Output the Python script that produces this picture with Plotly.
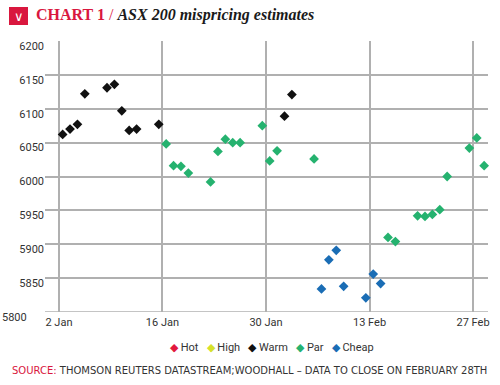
import plotly.graph_objects as go

# ---- data ----
dates = [
    "2018-01-02", "2018-01-03", "2018-01-04", "2018-01-05",
    "2018-01-08", "2018-01-09", "2018-01-10", "2018-01-11", "2018-01-12",
    "2018-01-15", "2018-01-16", "2018-01-17", "2018-01-18", "2018-01-19",
    "2018-01-22", "2018-01-23", "2018-01-24", "2018-01-25", "2018-01-26",
    "2018-01-29", "2018-01-30", "2018-01-31", "2018-02-01", "2018-02-02",
    "2018-02-05", "2018-02-06", "2018-02-07", "2018-02-08", "2018-02-09",
    "2018-02-12", "2018-02-13", "2018-02-14", "2018-02-15", "2018-02-16",
    "2018-02-19", "2018-02-20", "2018-02-21", "2018-02-22", "2018-02-23",
    "2018-02-26", "2018-02-27", "2018-02-28",
]
values = [
    6062, 6070, 6077, 6122,
    6131, 6136, 6097, 6068, 6070,
    6077, 6048, 6016, 6015, 6005,
    5992, 6037, 6055, 6050, 6050,
    6075, 6023, 6038, 6089, 6121,
    6026, 5834, 5877, 5891, 5838,
    5821, 5856, 5842, 5910, 5904,
    5942, 5941, 5944, 5951, 6000,
    6042, 6057, 6016,
]
ratings = [
    "Warm", "Warm", "Warm", "Warm",
    "Warm", "Warm", "Warm", "Warm", "Warm",
    "Warm", "Par", "Par", "Par", "Par",
    "Par", "Par", "Par", "Par", "Par",
    "Par", "Par", "Par", "Warm", "Warm",
    "Par", "Cheap", "Cheap", "Cheap", "Cheap",
    "Cheap", "Cheap", "Cheap", "Par", "Par",
    "Par", "Par", "Par", "Par", "Par",
    "Par", "Par", "Par",
]
categories = ["Hot", "High", "Warm", "Par", "Cheap"]
cat_colors = ["#e2193d", "#d6e12a", "#111111", "#25b26f", "#1a6db5"]

tick_dates = ["2018-01-02", "2018-01-16", "2018-01-30", "2018-02-13", "2018-02-27"]
tick_text = ["2 Jan", "16 Jan", "30 Jan", "13 Feb", "27 Feb"]
y_ticks = [5850, 5900, 5950, 6000, 6050, 6100, 6150, 6200]

title_label = "CHART 1"
title_text = "ASX 200 mispricing estimates"
source_label = "SOURCE:"
source_text = "THOMSON REUTERS DATASTREAM;WOODHALL \u2013 DATA TO CLOSE ON FEBRUARY 28TH"

RED = "#d9173e"
GRID = "#b0b0b0"
NARROW = "Liberation Sans Narrow, Arial Narrow, Roboto, sans-serif"

fig = go.Figure()
for cat, col in zip(categories, cat_colors):
    xs = [d for d, r in zip(dates, ratings) if r == cat]
    ys = [v for v, r in zip(values, ratings) if r == cat]
    fig.add_trace(go.Scatter(
        x=xs, y=ys, mode="markers", name=cat,
        marker=dict(symbol="diamond", size=7.5, color=col),
        xperiod=86400000, xperiodalignment="middle",
        showlegend=False, cliponaxis=False,
    ))

fig.update_layout(
    width=500, height=385,
    margin=dict(l=45, r=10, t=41, b=73),
    paper_bgcolor="white", plot_bgcolor="white",
    showlegend=False,
    xaxis=dict(
        type="date",
        range=["2017-12-31 02:45", "2018-03-01 00:30"],
        tickvals=tick_dates, ticktext=tick_text,
        showgrid=True, gridcolor=GRID, gridwidth=1.5,
        zeroline=False, showline=False, ticks="",
        ticklabelstandoff=2,
        tickfont=dict(family=NARROW, size=11, color="#333333"),
    ),
    yaxis=dict(
        range=[5800, 6200],
        tickvals=y_ticks,
        showgrid=True, gridcolor=GRID, gridwidth=1.5,
        zeroline=False, showline=False, ticks="",
        ticklabelshift=5,
        tickfont=dict(family=NARROW, size=11, color="#333333"),
    ),
)

# bottom grid line / 5800 label
fig.add_hline(y=5800, line=dict(color=GRID, width=1.5))
fig.add_annotation(
    xref="paper", yref="y", x=0, y=5800, text="5800", showarrow=False,
    xanchor="right", yanchor="middle", xshift=-16, yshift=-5,
    font=dict(family=NARROW, size=11, color="#333333"),
)

# title icon
fig.add_shape(
    type="rect", xref="paper", yref="paper",
    xsizemode="pixel", ysizemode="pixel", xanchor=0, yanchor=1,
    x0=-36, x1=-17, y0=34, y1=16,
    fillcolor=RED, line=dict(width=0),
)
fig.add_annotation(
    xref="paper", yref="paper", x=0, y=1, xshift=-26.5, yshift=25,
    text="\u2228", showarrow=False, xanchor="center", yanchor="middle",
    font=dict(family="DejaVu Sans", size=13, color="white"),
)
fig.add_annotation(
    xref="paper", yref="paper", x=0, y=1, xshift=-11, yshift=26,
    xanchor="left", yanchor="middle", showarrow=False,
    text=(f"<b><span style='color:{RED}'>{title_label}</span></b>"
          f" <span style='color:{RED}'>/</span> <b><i>{title_text}</i></b>"),
    font=dict(family="Liberation Serif, DejaVu Serif, serif", size=16, color="#1a1a1a"),
)

# legend (built from category lists)
legend_html = "&nbsp;&nbsp;&nbsp;".join(
    f"<span style='color:{c}'>\u25c6</span> {n}" for n, c in zip(categories, cat_colors)
)
fig.add_annotation(
    xref="paper", yref="paper", x=0.5, y=0, xshift=5, yshift=-35,
    xanchor="center", yanchor="middle", showarrow=False,
    text=legend_html,
    font=dict(family=NARROW, size=11, color="#333333"),
)

# source
fig.add_annotation(
    xref="paper", yref="paper", x=0, y=0, xshift=-35, yshift=-58,
    xanchor="left", yanchor="middle", showarrow=False,
    text=f"<span style='color:{RED}'>{source_label}</span> {source_text}",
    font=dict(family="DejaVu Sans", size=10, color="#333333"),
)

fig.write_html(
    "out.html",
    config={"displayModeBar": False},
    post_script="document.body.style.margin='0';document.body.style.overflow='hidden';",
)
